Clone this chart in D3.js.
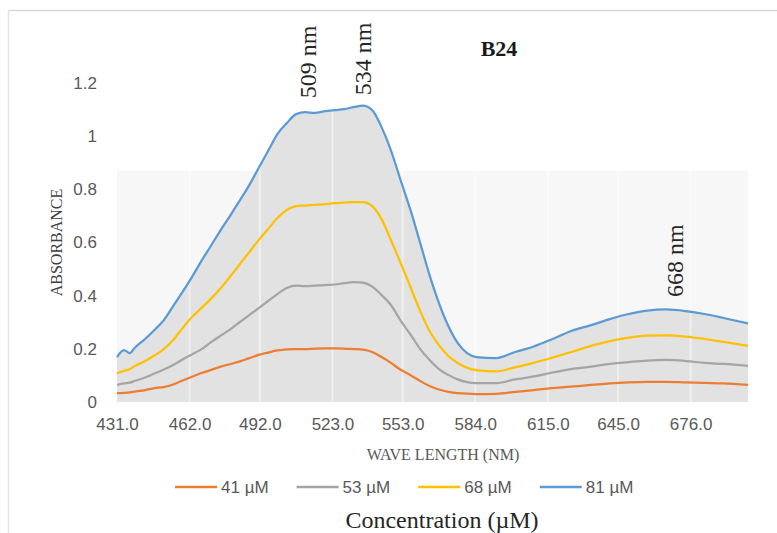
<!DOCTYPE html>
<html>
<head>
<meta charset="utf-8">
<script src="https://cdn.jsdelivr.net/npm/d3@7"></script>
<style>
  html, body { margin: 0; padding: 0; background: #fff; }
  svg { display: block; }
</style>
</head>
<body>
<div id="chart"></div>
<script>
// B24 absorbance spectra, one line per concentration.
// Values (axis units, not true nm spacing).

const WAVELENGTHS = [431, 434, 436.5, 438.5, 443, 447, 451, 455, 459, 463,
  467, 471, 475, 479.5, 483.5, 487.5, 491.5, 495.5, 499.5, 503.5,
  507.5, 511.5, 515.5, 520, 524, 528, 532, 536, 540, 544,
  548, 552, 556.5, 560.5, 564.5, 568.5, 572.5, 576.5, 584.5, 593,
  601, 609, 617, 625, 633.5, 641.5, 649.5, 657.5, 665.5, 674,
  682, 690, 700.5];

const ABS_41 = [0.033, 0.034, 0.036, 0.039, 0.045, 0.052, 0.056, 0.066, 0.081, 0.095,
  0.109, 0.120, 0.132, 0.143, 0.153, 0.165, 0.177, 0.186, 0.194, 0.198,
  0.199, 0.199, 0.201, 0.202, 0.202, 0.201, 0.199, 0.197, 0.188, 0.169,
  0.147, 0.122, 0.100, 0.079, 0.060, 0.047, 0.038, 0.033, 0.030, 0.031,
  0.038, 0.045, 0.052, 0.058, 0.064, 0.070, 0.074, 0.076, 0.076, 0.074,
  0.072, 0.070, 0.064];

const ABS_53 = [0.064, 0.070, 0.073, 0.079, 0.092, 0.107, 0.122, 0.139, 0.160, 0.179,
  0.198, 0.224, 0.248, 0.274, 0.301, 0.327, 0.353, 0.380, 0.406, 0.429,
  0.438, 0.436, 0.438, 0.440, 0.442, 0.447, 0.451, 0.449, 0.434, 0.402,
  0.365, 0.308, 0.252, 0.199, 0.158, 0.124, 0.102, 0.085, 0.071, 0.071,
  0.085, 0.096, 0.111, 0.124, 0.133, 0.143, 0.150, 0.156, 0.158, 0.154,
  0.147, 0.143, 0.136];

const ABS_68 = [0.108, 0.117, 0.124, 0.135, 0.154, 0.175, 0.199, 0.233, 0.278, 0.320,
  0.353, 0.387, 0.425, 0.474, 0.519, 0.564, 0.609, 0.650, 0.692, 0.722,
  0.737, 0.739, 0.742, 0.744, 0.748, 0.750, 0.752, 0.752, 0.737, 0.688,
  0.609, 0.526, 0.429, 0.342, 0.267, 0.214, 0.173, 0.147, 0.120, 0.115,
  0.130, 0.147, 0.167, 0.188, 0.211, 0.229, 0.242, 0.250, 0.251, 0.246,
  0.237, 0.226, 0.211];

const ABS_81 = [0.169, 0.195, 0.184, 0.203, 0.237, 0.271, 0.308, 0.361, 0.414, 0.470,
  0.530, 0.586, 0.643, 0.703, 0.759, 0.816, 0.880, 0.944, 1.008, 1.049,
  1.083, 1.090, 1.088, 1.094, 1.098, 1.102, 1.109, 1.115, 1.098, 1.034,
  0.947, 0.838, 0.718, 0.598, 0.477, 0.372, 0.286, 0.222, 0.169, 0.165,
  0.188, 0.209, 0.237, 0.267, 0.289, 0.312, 0.331, 0.344, 0.348, 0.342,
  0.331, 0.316, 0.296];

const SERIES_NAMES = ['41 µM', '53 µM', '68 µM', '81 µM'];
const SERIES_VALUES = [ABS_41, ABS_53, ABS_68, ABS_81];
const SERIES_COLORS = ['#ED7D31', '#A5A5A5', '#FFC000', '#5B9BD5'];

const X_TICKS = [431, 462, 492, 523, 553, 584, 615, 645, 676];
const Y_TICKS = [0, 0.2, 0.4, 0.6, 0.8, 1, 1.2];

// peak call-outs: text, and where the label starts (axis units)
const PEAK_LABELS = ['509 nm', '534 nm', '668 nm'];
const PEAK_AT = [515.8, 539.3, 672.6];
const PEAK_Y = [1.143, 1.154, 0.395];

const W = 777, H = 533;
const SANS = '"Liberation Sans", Arial, sans-serif';
const SERIF = '"Liberation Serif", "Times New Roman", serif';

const svg = d3.select('#chart').append('svg')
  .attr('width', W).attr('height', H);

// outer frame (top + left edge only are visible in the source)
svg.append('line').attr('x1', 8).attr('x2', W).attr('y1', 10.5).attr('y2', 10.5)
  .attr('stroke', '#d9d9d9').attr('stroke-width', 1.5);
svg.append('line').attr('x1', 8.5).attr('x2', 8.5).attr('y1', 10).attr('y2', H)
  .attr('stroke', '#e3e3e3').attr('stroke-width', 1.5);

const x = d3.scaleLinear().domain([431, 700.5]).range([117, 748]);
const y = d3.scaleLinear().domain([0, 1.2]).range([402, 83]);

// faint plot-area panel
svg.append('rect')
  .attr('x', x(431)).attr('y', y(0.87))
  .attr('width', x(700.5) - x(431)).attr('height', y(0) - y(0.87))
  .attr('fill', '#f7f7f7');

// grey fill under the highest curve
const area = d3.area()
  .x((d, i) => x(WAVELENGTHS[i]))
  .y0(y(0))
  .y1(d => y(d))
  .curve(d3.curveMonotoneX);
svg.append('path').datum(ABS_81)
  .attr('d', area)
  .attr('fill', '#e2e2e2');

// pale vertical stripes at the category ticks
svg.append('g').selectAll('line')
  .data(X_TICKS.slice(1))
  .join('line')
  .attr('x1', d => x(d)).attr('x2', d => x(d))
  .attr('y1', y(1.2)).attr('y2', y(0))
  .attr('stroke', '#ffffff').attr('stroke-opacity', 0.45).attr('stroke-width', 2);

// series lines
const line = d3.line()
  .x((d, i) => x(WAVELENGTHS[i]))
  .y(d => y(d))
  .curve(d3.curveMonotoneX);
svg.append('g').selectAll('path')
  .data(SERIES_VALUES)
  .join('path')
  .attr('d', line)
  .attr('fill', 'none')
  .attr('stroke', (d, i) => SERIES_COLORS[i])
  .attr('stroke-width', 2.25)
  .attr('stroke-linejoin', 'round');

// axes: labels only, no lines
const xAxis = d3.axisBottom(x).tickValues(X_TICKS).tickFormat(d3.format('.1f')).tickSize(0).tickPadding(0);
const gx = svg.append('g').attr('transform', 'translate(0,418)').call(xAxis);
gx.select('.domain').remove();
gx.selectAll('text')
  .attr('dy', '0.71em')
  .attr('font-family', SANS).attr('font-size', 17).attr('fill', '#595959');

const yAxis = d3.axisLeft(y).tickValues(Y_TICKS).tickFormat(d => String(d)).tickSize(0).tickPadding(0);
const gy = svg.append('g').attr('transform', 'translate(97,0)').call(yAxis);
gy.select('.domain').remove();
gy.selectAll('text')
  .attr('font-family', SANS).attr('font-size', 17).attr('fill', '#595959');

// titles
svg.append('text')
  .attr('x', 499).attr('y', 56)
  .attr('text-anchor', 'middle')
  .attr('font-family', SERIF).attr('font-weight', 'bold').attr('font-size', 22)
  .attr('fill', '#1a1a1a')
  .text('B24');

svg.append('text')
  .attr('transform', `translate(62,${(y(0) + y(1.2)) / 2}) rotate(-90)`)
  .attr('text-anchor', 'middle')
  .attr('font-family', SERIF).attr('font-size', 16).attr('fill', '#404040')
  .text('ABSORBANCE');

svg.append('text')
  .attr('x', 443).attr('y', 460)
  .attr('text-anchor', 'middle')
  .attr('font-family', SERIF).attr('font-size', 16).attr('fill', '#595959')
  .text('WAVE LENGTH (NM)');

// peak labels, rotated
svg.append('g').selectAll('text')
  .data(PEAK_LABELS)
  .join('text')
  .attr('transform', (d, i) => `translate(${x(PEAK_AT[i])},${y(PEAK_Y[i])}) rotate(-90)`)
  .attr('font-family', SERIF).attr('font-size', 24).attr('fill', '#262626')
  .text(d => d);

// legend
const legend = svg.append('g').attr('transform', 'translate(0,487)');
let lx = 175;
SERIES_NAMES.forEach((name, i) => {
  legend.append('line')
    .attr('x1', lx).attr('x2', lx + 42).attr('y1', 0).attr('y2', 0)
    .attr('stroke', SERIES_COLORS[i]).attr('stroke-width', 2.5);
  const t = legend.append('text')
    .attr('x', lx + 46).attr('y', 6)
    .attr('font-family', SANS).attr('font-size', 17).attr('fill', '#595959')
    .text(name);
  lx += 46 + t.node().getComputedTextLength() + 28;
});

svg.append('text')
  .attr('x', 442).attr('y', 528)
  .attr('text-anchor', 'middle')
  .attr('font-family', SERIF).attr('font-size', 24).attr('fill', '#262626')
  .text('Concentration (µM)');
</script>
</body>
</html>
